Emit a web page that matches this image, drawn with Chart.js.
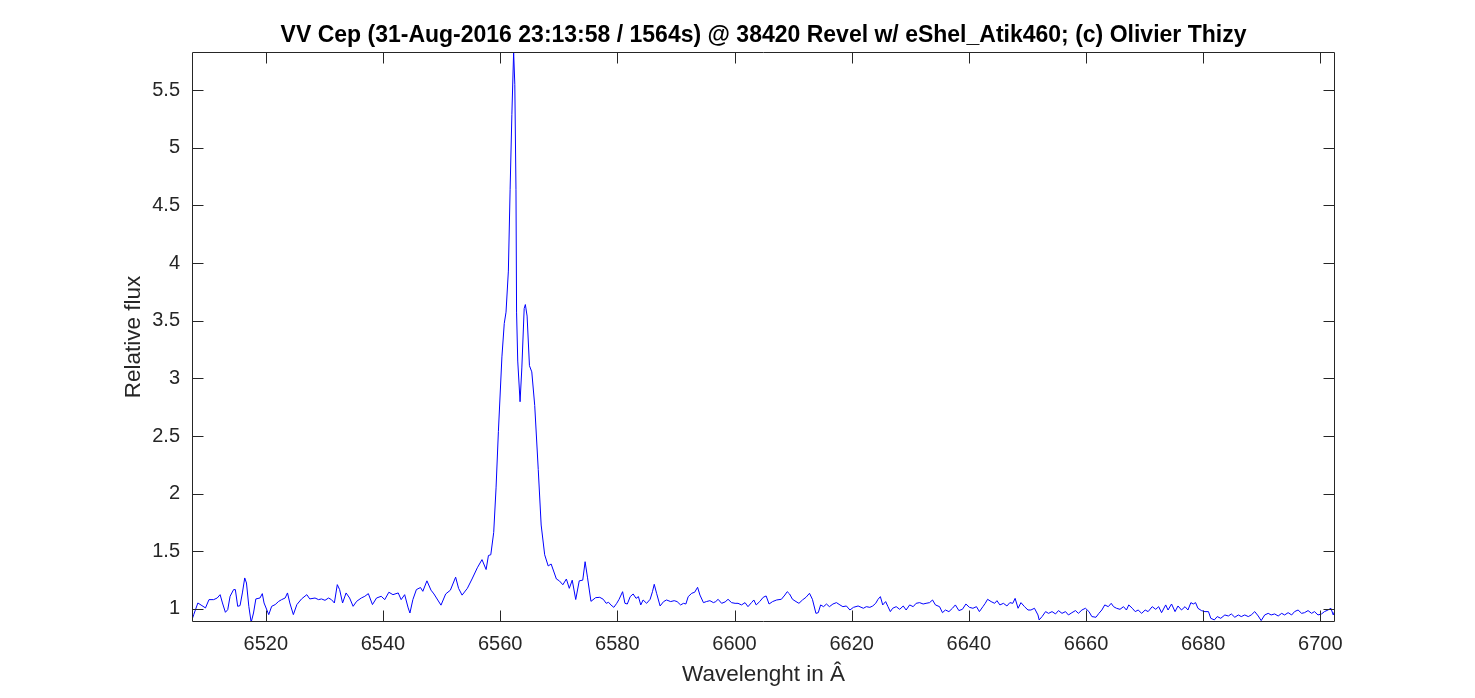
<!DOCTYPE html>
<html><head><meta charset="utf-8">
<script src="https://cdn.jsdelivr.net/npm/chart.js@4"></script>
<style>html,body{margin:0;padding:0;background:#fff}#c{display:block}</style>
</head><body>
<canvas id="c" width="1475" height="698"></canvas>
<script>
const titleText = "VV Cep (31-Aug-2016 23:13:58 / 1564s) @ 38420 Revel w/ eShel_Atik460; (c) Olivier Thizy";
const xLabel = "Wavelenght in Â";
const yLabel = "Relative flux";
const xTicks = [6520, 6540, 6560, 6580, 6600, 6620, 6640, 6660, 6680, 6700];
const yTicks = [1, 1.5, 2, 2.5, 3, 3.5, 4, 4.5, 5, 5.5];
const xRange = [6507.4, 6702.5];
const yRange = [0.887, 5.83];

const wavelength = [
6507.4,6507.7,6508.4,6509.1,6509.7,6510.3,6511.1,6511.7,6512.2,6512.6,
6513.1,6513.5,6513.9,6514.5,6514.8,6515.2,6515.6,6516.0,6516.4,6516.7,
6517.1,6517.5,6517.9,6518.3,6519.0,6519.4,6519.7,6520.5,6521.0,6521.6,
6522.2,6522.7,6523.3,6523.7,6524.1,6524.7,6525.3,6526.1,6527.0,6527.5,
6528.4,6529.0,6529.5,6530.1,6530.7,6531.2,6531.7,6532.2,6532.6,6533.1,
6533.7,6534.3,6534.9,6535.5,6536.3,6536.9,6537.5,6538.2,6538.9,6539.7,
6540.3,6541.0,6541.7,6542.6,6543.1,6543.7,6544.3,6544.6,6545.1,6545.7,
6546.4,6546.8,6547.5,6548.2,6548.7,6549.9,6550.7,6551.5,6552.4,6552.9,
6553.5,6554.4,6555.2,6556.1,6556.9,6557.6,6558.0,6558.4,6558.9,6559.3,
6559.7,6560.3,6560.7,6561.0,6561.4,6561.7,6562.0,6562.3,6562.5,6562.7,
6562.8,6563.0,6563.4,6563.7,6564.1,6564.3,6564.6,6565.0,6565.4,6565.9,
6566.5,6567.0,6567.6,6568.2,6568.7,6569.6,6570.1,6570.7,6571.3,6571.8,
6572.3,6572.9,6573.5,6574.1,6574.5,6574.9,6575.5,6576.3,
6577.0,6577.6,6578.1,6578.5,6578.9,6579.4,6579.9,6580.3,6580.9,6581.3,
6581.7,6582.2,6582.7,6583.2,6583.6,6584.0,6584.4,6585.0,6585.6,6586.0,
6586.3,6586.7,6587.3,6587.9,6588.4,6589.1,6589.7,6590.2,6590.8,6591.3,
6591.7,6592.1,6592.7,6593.2,6593.7,6594.1,6594.7,6595.2,6595.8,6596.4,
6596.8,6597.2,6597.8,6598.4,6598.9,6599.5,6600.1,6600.6,6601.2,6601.8,
6602.3,6602.9,6603.3,6603.7,6604.3,6604.9,6605.4,6605.9,6606.5,6607.2,
6608.0,6608.6,6609.0,6609.4,6609.9,6610.5,6611.0,6611.6,6612.2,6612.8,
6613.3,6613.9,6614.3,6614.7,6615.2,6615.7,6616.2,6616.8,6617.4,6618.0,
6618.5,6619.1,6619.7,6620.3,6621.1,
6622.0,6622.5,6623.1,6623.6,6624.1,6624.5,6624.9,6625.3,6625.8,6626.2,
6626.6,6627.0,6627.6,6628.2,6628.8,6629.3,6629.9,6630.5,6631.0,6631.6,
6632.2,6632.7,6633.3,6633.8,6634.3,6635.0,6635.5,6636.0,6636.6,6637.2,
6637.7,6638.3,6638.9,6639.5,6640.1,6640.7,6641.3,6641.8,6642.4,6642.8,
6643.2,6643.8,6644.4,6644.8,6645.3,6645.9,6646.5,6647.0,6647.5,6647.9,
6648.4,6648.9,6649.5,6650.1,6650.6,6651.2,6651.8,6652.0,6652.5,6653.1,
6653.6,6654.2,6654.8,6655.3,6655.9,6656.5,6657.0,6657.6,6658.2,6658.7,
6659.3,6659.9,6660.5,6661.0,6661.7,6662.2,
6662.7,6663.2,6663.8,6664.3,6664.7,6665.2,6665.8,6666.4,6666.9,6667.3,
6667.9,6668.4,6668.9,6669.5,6670.1,6670.6,6671.3,6671.9,6672.4,6672.9,
6673.6,6674.0,6674.6,6675.2,6675.7,6676.3,6676.9,6677.4,6677.9,6678.3,
6678.7,6679.1,6679.7,6680.3,6680.9,6681.3,6681.9,6682.4,6683.0,6683.7,
6684.3,6684.8,6685.4,6686.0,6686.5,6687.1,6687.7,6688.2,6688.8,6689.4,
6689.9,6690.5,6691.1,6691.6,6692.2,6692.8,6693.4,6693.9,6694.5,6695.1,
6695.6,6696.2,6696.8,6697.3,6697.9,6698.5,6699.0,6699.6,6700.2,6700.7,
6701.3,6701.8,6702.2,6702.5
];

const flux = [
0.908,0.951,1.052,1.029,1.009,1.081,1.081,1.095,1.124,1.052,
0.971,0.994,1.110,1.168,1.168,1.023,1.029,1.139,1.269,1.225,
1.023,0.884,0.965,1.087,1.095,1.133,1.052,0.951,1.023,1.038,
1.066,1.081,1.095,1.139,1.052,0.951,1.038,1.087,1.124,1.087,
1.095,1.081,1.087,1.075,1.095,1.081,1.052,1.211,1.168,1.052,
1.139,1.095,1.023,1.066,1.095,1.110,1.133,1.038,1.095,1.110,
1.081,1.145,1.124,1.139,1.081,1.124,1.009,0.965,1.081,1.168,
1.186,1.153,1.244,1.163,1.130,1.033,1.130,1.163,1.276,1.179,
1.120,1.179,1.260,1.357,1.428,1.342,1.464,1.470,1.664,2.050,
2.540,3.186,3.476,3.574,3.930,4.640,5.290,5.830,5.550,4.640,
3.574,3.150,2.797,3.090,3.606,3.640,3.540,3.110,3.056,2.764,
2.210,1.728,1.470,1.373,1.390,1.260,1.244,1.210,1.260,1.179,
1.250,1.082,1.244,1.250,1.410,1.276,1.066,1.098,
1.101,1.084,1.049,1.058,1.035,1.014,1.049,1.084,1.150,1.049,
1.043,1.107,1.130,1.092,1.107,1.035,1.078,1.049,1.084,1.150,
1.214,1.136,1.026,1.064,1.078,1.064,1.072,1.064,1.035,1.049,
1.043,1.107,1.136,1.145,1.188,1.121,1.055,1.064,1.072,1.055,
1.064,1.084,1.049,1.061,1.084,1.055,1.049,1.049,1.035,1.055,
1.020,1.055,1.078,1.035,1.064,1.101,1.113,1.043,1.064,1.078,
1.084,1.121,1.150,1.130,1.084,1.064,1.049,1.078,1.101,1.136,
1.084,0.962,0.968,1.035,1.020,1.043,1.020,1.043,1.055,1.035,
1.020,1.026,0.991,1.014,1.026,
1.006,1.020,1.014,1.026,1.049,1.084,1.107,1.035,1.064,1.020,
0.977,1.006,1.020,0.997,1.026,0.991,1.035,1.020,1.049,1.055,
1.043,1.049,1.055,1.078,1.035,1.020,0.968,0.991,0.977,1.006,
1.035,0.986,0.997,1.043,1.014,1.006,1.020,0.977,1.020,1.049,
1.084,1.064,1.049,1.072,1.035,1.049,1.026,1.055,1.049,1.092,
1.006,1.055,1.020,0.991,0.991,1.006,0.948,0.905,0.934,0.977,
0.962,0.977,0.957,0.986,0.962,0.977,0.948,0.968,0.986,0.962,
0.991,1.006,0.977,0.934,0.928,0.962,
0.991,1.035,1.020,1.049,1.020,1.006,0.997,1.020,0.991,1.035,
1.006,0.977,0.991,0.962,0.991,0.977,1.020,0.997,1.020,0.968,
1.035,0.991,1.043,0.977,1.026,0.991,1.020,0.991,1.055,1.043,
1.055,1.006,0.986,0.977,0.977,0.919,0.905,0.934,0.919,0.948,
0.939,0.957,0.928,0.948,0.934,0.948,0.934,0.948,0.977,0.939,
0.899,0.948,0.962,0.948,0.957,0.939,0.962,0.948,0.968,0.948,
0.977,0.991,0.962,0.968,0.986,0.962,0.977,0.948,0.957,0.977,
0.991,1.006,0.948,0.991
];

const AXIS = '#262626';
const FONT = '"Liberation Sans", Arial, sans-serif';

const matlabAxes = {
  id: 'matlabAxes',
  afterDraw(chart) {
    const {ctx, chartArea: a, scales: {x, y}} = chart;
    ctx.save();
    ctx.strokeStyle = AXIS;
    ctx.lineWidth = 1;
    const L = Math.round(a.left) + 0.5, R = Math.round(a.right) - 0.5;
    const T = Math.round(a.top) + 0.5, B = Math.round(a.bottom) - 0.5;
    ctx.beginPath();
    ctx.rect(L, T, R - L, B - T);
    ctx.stroke();
    const tl = 11;
    ctx.beginPath();
    x.ticks.forEach(t => {
      const px = Math.round(x.getPixelForValue(t.value)) + 0.5;
      ctx.moveTo(px, B); ctx.lineTo(px, B - tl);
      ctx.moveTo(px, T); ctx.lineTo(px, T + tl);
    });
    y.ticks.forEach(t => {
      const py = Math.round(y.getPixelForValue(t.value)) + 0.5;
      ctx.moveTo(L, py); ctx.lineTo(L + tl, py);
      ctx.moveTo(R, py); ctx.lineTo(R - tl, py);
    });
    ctx.stroke();
    const cx = (a.left + a.right) / 2, cy = (a.top + a.bottom) / 2;
    ctx.textAlign = 'center';
    ctx.textBaseline = 'middle';
    ctx.fillStyle = '#000';
    ctx.font = 'bold 23px ' + FONT;
    ctx.fillText(titleText, cx, 36);
    ctx.fillStyle = AXIS;
    ctx.font = '22.5px ' + FONT;
    ctx.fillText(xLabel, cx, 675);
    ctx.translate(134, cy);
    ctx.rotate(-Math.PI / 2);
    ctx.fillText(yLabel, 0, 0);
    ctx.restore();
  }
};

new Chart(document.getElementById('c'), {
  type: 'line',
  data: {
    datasets: [{
      data: wavelength.map((w, i) => ({x: w, y: flux[i]})),
      borderColor: '#0000ff',
      borderWidth: 1,
      pointRadius: 0,
      tension: 0,
      fill: false
    }]
  },
  options: {
    responsive: false,
    animation: false,
    devicePixelRatio: 1,
    layout: {padding: {top: 52, right: 140, left: 0, bottom: 0}},
    plugins: {legend: {display: false}, tooltip: {enabled: false}, title: {display: false}},
    scales: {
      x: {
        type: 'linear', min: xRange[0], max: xRange[1],
        afterBuildTicks: s => { s.ticks = xTicks.map(v => ({value: v})); },
        afterFit: s => { s.height = 76; },
        grid: {display: false, drawTicks: false},
        border: {display: false},
        ticks: {color: AXIS, font: {family: FONT, size: 20}, padding: 10, maxRotation: 0, autoSkip: false,
                callback: v => String(v)}
      },
      y: {
        type: 'linear', min: yRange[0], max: yRange[1],
        afterBuildTicks: s => { s.ticks = yTicks.map(v => ({value: v})); },
        afterFit: s => { s.width = 192; },
        grid: {display: false, drawTicks: false},
        border: {display: false},
        ticks: {color: AXIS, font: {family: FONT, size: 20}, padding: 12, autoSkip: false,
                callback: v => String(v)}
      }
    }
  },
  plugins: [matlabAxes]
});
</script>
</body></html>
